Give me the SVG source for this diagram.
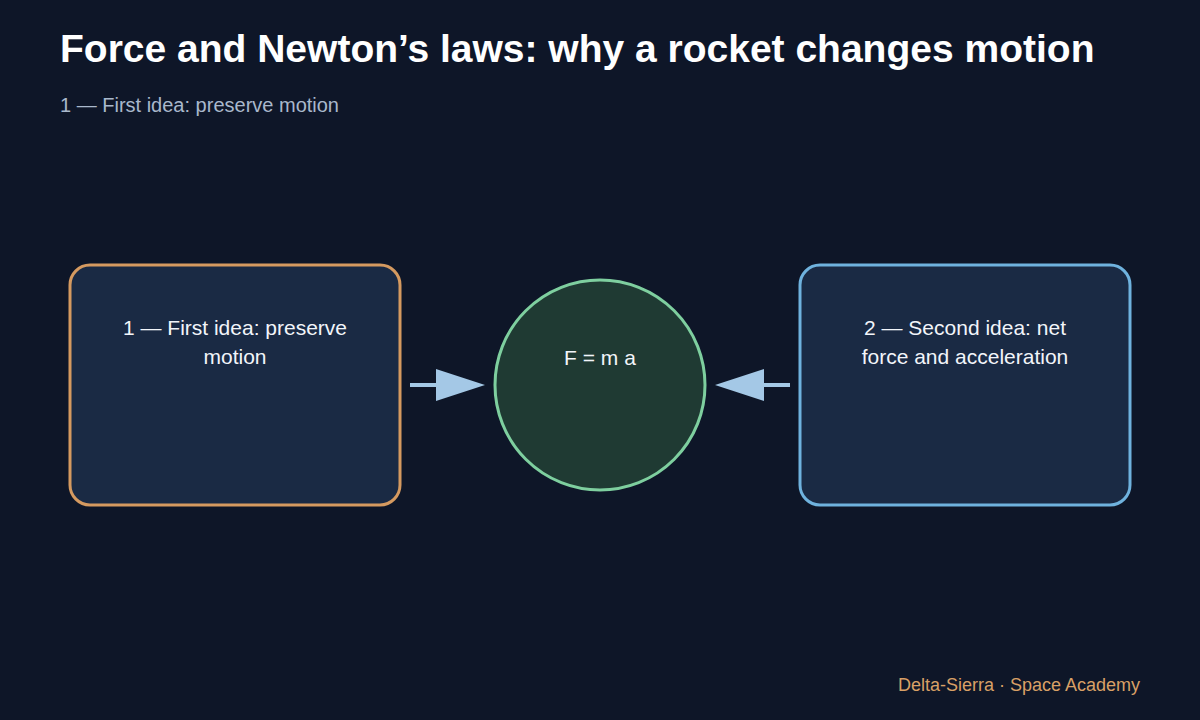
<svg xmlns="http://www.w3.org/2000/svg" width="1200" height="720" viewBox="0 0 1200 720">
<style>
.t{font-family:"Liberation Sans",Arial,sans-serif}
.lbl{font-family:"Liberation Sans",Arial,sans-serif;font-size:21px;fill:#f2f5fa;text-anchor:middle}
.box{fill:#1a2a44;stroke-width:3}
.con{stroke:#a4c8e6;stroke-width:4;fill:none}
</style>
<defs>
<marker id="ah" viewBox="0 0 10 10" refX="10" refY="5" markerWidth="12.5" markerHeight="8" markerUnits="userSpaceOnUse" orient="auto" >
<path d="M0,0 L10,5 L0,10 z" fill="#a4c8e6"/>
</marker>
</defs>
<rect width="1200" height="720" fill="#0e1628"/>
<text class="t" x="60" y="62" font-size="39" font-weight="bold" fill="#ffffff">Force and Newton’s laws: why a rocket changes motion</text>
<text class="t" x="60" y="112" font-size="20" fill="#a9b8cc">1 — First idea: preserve motion</text>
<g id="connectors">
<line class="con" x1="410" y1="385" x2="440" y2="385"/>
<polygon points="436,369 485,385 436,401" fill="#a4c8e6"/>
<line class="con" x1="790" y1="385" x2="760" y2="385"/>
<polygon points="764,369 715,385 764,401" fill="#a4c8e6"/>
</g>
<g id="node-first">
<rect class="box" x="70" y="265" width="330" height="240" rx="20" stroke="#d59a60"/>
<text class="lbl" x="235" y="335">1 — First idea: preserve</text>
<text class="lbl" x="235" y="364">motion</text>
</g>
<g id="node-fma">
<circle cx="600" cy="385" r="105" fill="#1f3a33" stroke="#7ecf9f" stroke-width="3"/>
<text class="lbl" x="600" y="365">F = m a</text>
</g>
<g id="node-second">
<rect class="box" x="800" y="265" width="330" height="240" rx="20" stroke="#6fb2de"/>
<text class="lbl" x="965" y="335">2 — Second idea: net</text>
<text class="lbl" x="965" y="364">force and acceleration</text>
</g>
<text class="t" x="1140" y="691" font-size="18" fill="#d9a066" text-anchor="end">Delta-Sierra · Space Academy</text>
</svg>
